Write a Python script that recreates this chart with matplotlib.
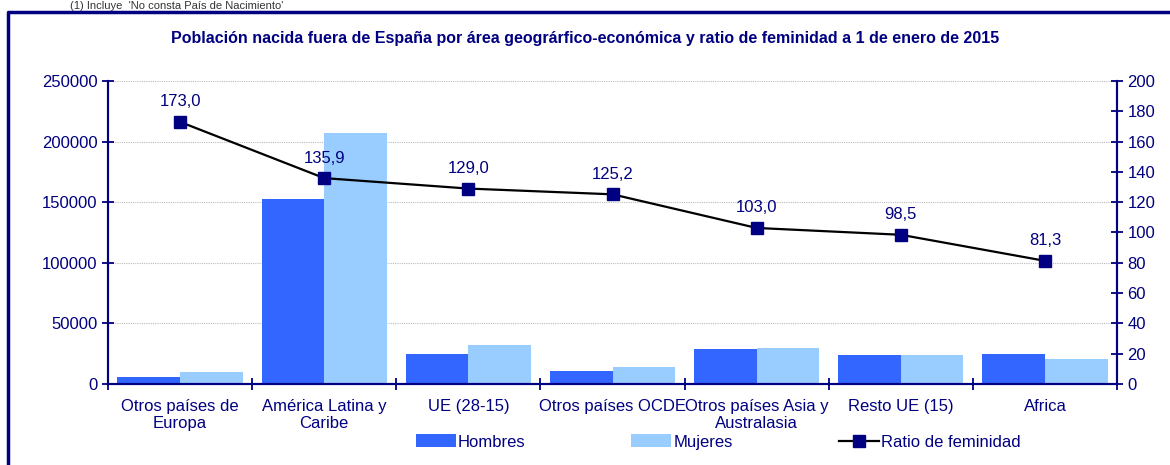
import matplotlib
matplotlib.use('Agg')
import matplotlib.pyplot as plt
from matplotlib.lines import Line2D
import numpy as np

plt.rcParams['font.family'] = ['Liberation Sans', 'DejaVu Sans']

NAVY = '#000080'
C_HOMBRES = '#3366FF'
C_MUJERES = '#99CCFF'

categorias = ['Otros países de\nEuropa', 'América Latina y\nCaribe', 'UE (28-15)',
              'Otros países OCDE', 'Otros países Asia y\nAustralasia', 'Resto UE (15)', 'Africa']
hombres = [5600, 152600, 25000, 11000, 28500, 24000, 25000]
mujeres = [9700, 207400, 32250, 13800, 29350, 23640, 20300]
ratio = [173.0, 135.9, 129.0, 125.2, 103.0, 98.5, 81.3]

FS = 12
W, H = 1170, 465
fig = plt.figure(figsize=(W / 100, H / 100), dpi=100)
ax = fig.add_axes([108 / W, 1 - 384 / H, (1117 - 108) / W, (384 - 81) / H])
ax2 = ax.twinx()

x = np.arange(len(categorias))
bw = 0.435
b1 = ax.bar(x - bw / 2, hombres, bw, color=C_HOMBRES, label='Hombres')
b2 = ax.bar(x + bw / 2, mujeres, bw, color=C_MUJERES, label='Mujeres')

ax.set_xlim(-0.5, len(categorias) - 0.5)
ax.set_ylim(0, 250000)
ax.set_yticks(np.arange(0, 250001, 50000))
ax.yaxis.grid(True, color='#bbbbbb', linestyle=(0, (1, 1)), linewidth=0.8)
ax.set_axisbelow(True)

# tick marks between categories, labels at the centres
ax.set_xticks(np.arange(-0.5, len(categorias), 1.0))
ax.set_xticklabels([])
ax.set_xticks(x, minor=True)
ax.set_xticklabels(categorias, minor=True, fontsize=FS, color=NAVY, linespacing=1.15)
ax.tick_params(axis='x', which='minor', length=0, pad=11)
ax.tick_params(axis='x', which='major', direction='inout', length=8, color=NAVY, width=1.3)
ax.tick_params(axis='y', direction='inout', length=8, color=NAVY, width=1.3,
               labelcolor=NAVY, labelsize=FS)

ax2.plot(x, ratio, color='black', linewidth=1.6, marker='s', markersize=8,
         markerfacecolor=NAVY, markeredgecolor=NAVY, label='Ratio de feminidad')
ax2.set_ylim(0, 200)
ax2.set_yticks(np.arange(0, 201, 20))
ax2.tick_params(axis='y', direction='inout', length=8, color=NAVY, width=1.3,
                labelcolor=NAVY, labelsize=FS)
for xi, r in zip(x, ratio):
    ax2.annotate(f'{r:.1f}'.replace('.', ','), (xi, r), xytext=(0, 9),
                 textcoords='offset points', ha='center', va='bottom',
                 fontsize=FS, color=NAVY)

for a in (ax, ax2):
    a.spines['top'].set_visible(False)
    for s in ('left', 'right', 'bottom'):
        a.spines[s].set_color(NAVY)
        a.spines[s].set_linewidth(1.5)

fig.text(0.5, 1 - 38 / H, 'Población nacida fuera de España por área geográrfico-económica y ratio de feminidad a 1 de enero de 2015',
         ha='center', va='center', fontsize=11.5, fontweight='bold', color=NAVY)
fig.text(70 / W, 1 - 1 / H, "(1) Incluye  'No consta País de Nacimiento'",
         ha='left', va='top', fontsize=8, color='#333333')

# frame around the chart
fig.add_artist(Line2D([8 / W, 8 / W, 1.0], [0.0, 1 - 12 / H, 1 - 12 / H],
                      transform=fig.transFigure, color=NAVY, linewidth=2.5))

handles = [b1, b2, ax2.get_lines()[0]]
leg = fig.legend(handles, ['Hombres', 'Mujeres', 'Ratio de feminidad'], loc='center',
                 bbox_to_anchor=(718 / W, 1 - 442 / H), ncol=3, frameon=False,
                 fontsize=FS, handlelength=2.4, handleheight=0.8, handletextpad=0.1,
                 columnspacing=6.4, borderpad=0)
for t in leg.get_texts():
    t.set_color(NAVY)

fig.savefig('out.png', dpi=100)
